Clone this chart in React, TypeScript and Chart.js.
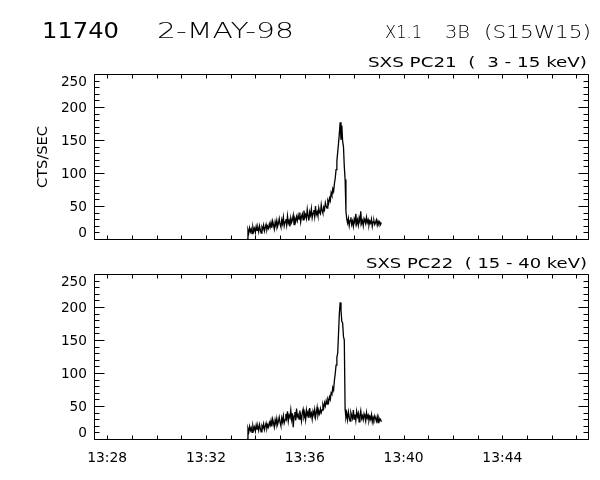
import { useEffect, useRef } from "react";
import { Chart, registerables } from "chart.js";

Chart.register(...registerables);

// ---------- data ----------
const HEADER_ID = "11740";
const HEADER_DATE = "2-MAY-98";
const HEADER_CLASS = "X1.1";
const HEADER_OPTICAL = "3B";
const HEADER_LOCATION = "(S15W15)";
const PANEL_TITLES = ["SXS PC21  (  3 - 15 keV)", "SXS PC22  ( 15 - 40 keV)"];
const Y_TITLE = "CTS/SEC";
const Y_TICKS = [0, 50, 100, 150, 200, 250];
const Y_MINOR_STEP = 10;
const X_TICK_LABELS = ["13:28", "13:32", "13:36", "13:40", "13:44"];
const X_MIN_TIME = "13:27:28";
const X_MAX_TIME = "13:47:28";
const START_TIME = "13:33:40";
const SAMPLE_SECONDS = 2;

const PC21 = [
  0,
  14, 9, 17, 11, 15, 8, 18, 12, 16, 10, 19, 13, 17, 11, 20, 14, 9, 18, 15, 21, 12, 17, 22, 14, 19, 16, 23,
  18, 25, 17, 27, 21, 15, 26, 20, 28, 19, 24, 31, 22, 18, 29, 23, 33, 20, 26, 30, 21, 35, 24, 28, 19, 32, 25, 29, 36, 22, 31, 27, 34,
  28, 36, 30, 40, 26, 34, 38, 29, 43, 33, 37, 31, 45, 35, 28, 41, 36, 46, 32, 39, 44, 34, 50, 37, 41, 35, 47, 40, 38, 52, 43, 39,
  48, 44, 55, 50, 47, 58, 54,
  62, 58, 70, 66, 76, 72, 84, 92, 105, 118, 132, 145, 160, 177, 150, 172, 148, 140, 110, 90, 42, 30,
  24, 31, 20, 28, 33, 22, 27, 19, 30, 25, 38, 23, 29, 21, 32, 26, 42, 24, 28, 20, 31, 27, 23, 33, 25, 29, 21, 27, 24, 30, 19, 26, 28, 22, 25, 29, 21, 27, 23, 26, 22, 25,
];

const PC22 = [
  0,
  16, 11, 19, 13, 17, 10, 20, 14, 18, 12, 21, 15, 19, 13, 22, 16, 11, 20, 17, 23, 14, 19, 24, 16, 21, 18, 25,
  21, 28, 19, 30, 24, 18, 29, 23, 31, 22, 27, 33, 25, 20, 32, 26, 35, 24,
  29, 38, 31, 42, 27, 36, 33, 44, 30, 39, 18, 35, 41, 28, 46, 34, 37, 30, 43, 36, 27, 40, 45, 33, 38, 29, 44, 36, 41, 32, 47, 35, 39, 30, 42, 37, 45, 33, 40, 48, 36, 42, 38, 46, 40,
  44, 52, 47, 55, 50, 58, 53, 60, 56,
  64, 60, 70, 68, 78, 74, 89, 99, 112, 124, 130, 160, 190, 207, 195, 178, 176, 155, 150, 45, 32,
  38, 29, 41, 33, 27, 40, 35, 31, 44, 30, 37, 28, 42, 34, 39, 26, 36, 43, 31, 35, 29, 38, 33, 27, 40, 32, 36, 28, 34, 30, 37, 26, 33, 29, 35, 31, 27, 34, 25, 32, 28, 30, 26,
];

// ---------- helpers ----------
// minutes after 13:00
function toMin(t: string): number {
  const [h, m, s] = t.split(":").map(Number);
  return (h - 13) * 60 + m + (s || 0) / 60;
}
const X_MIN = toMin(X_MIN_TIME);
const X_MAX = toMin(X_MAX_TIME);

function series(values: number[]) {
  const t0 = toMin(START_TIME);
  return values.map((v, i) => ({ x: t0 + (i * SAMPLE_SECONDS) / 60, y: v }));
}

const FONT = "'DejaVu Sans', 'Liberation Sans', sans-serif";

// draw text stretched horizontally to a target width (IDL's wide vector font)
function fitText(
  ctx: CanvasRenderingContext2D,
  text: string,
  left: number,
  baseline: number,
  width: number,
  font: string
) {
  ctx.save();
  ctx.font = font;
  ctx.textAlign = "left";
  ctx.textBaseline = "alphabetic";
  const w = ctx.measureText(text).width;
  ctx.translate(left, baseline);
  ctx.scale(width / w, 1);
  ctx.fillText(text, 0, 0);
  ctx.restore();
}

type PanelOpts = {
  title: string;
  titleLeft: number;
  titleBaseline: number;
  header: boolean;
  yTitle: boolean;
  xLabels: boolean;
  xLabelBaseline: number;
};

function makePlugin(p: PanelOpts) {
  return {
    id: "idlFrame",
    afterDraw(chart: any) {
      const ctx: CanvasRenderingContext2D = chart.ctx;
      const a = chart.chartArea;
      const xs = chart.scales.x;
      const ys = chart.scales.y;
      ctx.save();
      ctx.strokeStyle = "#000";
      ctx.fillStyle = "#000";
      ctx.lineWidth = 1;
      ctx.beginPath();
      const L = a.left + 0.5, R = a.right + 0.5, T = a.top + 0.5, B = a.bottom + 0.5;
      ctx.moveTo(L, T); ctx.lineTo(R, T); ctx.lineTo(R, B); ctx.lineTo(L, B); ctx.closePath();
      // x ticks, every minute, inward on both edges
      for (let m = Math.ceil(X_MIN); m <= X_MAX; m++) {
        const px = Math.round(xs.getPixelForValue(m)) + 0.5;
        ctx.moveTo(px, B); ctx.lineTo(px, B - 4);
        ctx.moveTo(px, T); ctx.lineTo(px, T + 4);
      }
      // y ticks
      const yMax = Y_TICKS[Y_TICKS.length - 1];
      for (let v = Y_TICKS[0]; v <= yMax; v += Y_MINOR_STEP) {
        const py = Math.round(ys.getPixelForValue(v)) + 0.5;
        const len = Y_TICKS.includes(v) ? 10 : 5;
        ctx.moveTo(L, py); ctx.lineTo(L + len, py);
        ctx.moveTo(R, py); ctx.lineTo(R - len, py);
      }
      ctx.stroke();

      // y tick labels
      const cap = 10;
      for (const v of Y_TICKS) {
        let c = ys.getPixelForValue(v);
        c = Math.max(a.top + 2 + cap / 2, Math.min(a.bottom - 2 - cap / 2, c));
        const s = String(v);
        const w = s.length * 8.7;
        fitText(ctx, s, a.left - 7 - w, c + cap / 2, w, "14px " + FONT);
      }

      // x tick labels
      if (p.xLabels) {
        for (const lab of X_TICK_LABELS) {
          const px = xs.getPixelForValue(toMin(lab + ":00"));
          fitText(ctx, lab, px - 20, p.xLabelBaseline, 40, "14px " + FONT);
        }
      }

      // panel title
      fitText(ctx, p.title, p.titleLeft, p.titleBaseline, 587 - p.titleLeft, "14px " + FONT);

      // y title
      if (p.yTitle) {
        ctx.save();
        ctx.translate(47, 157);
        ctx.rotate(-Math.PI / 2);
        ctx.font = "14px " + FONT;
        const w = ctx.measureText(Y_TITLE).width;
        fitText(ctx, Y_TITLE, -31, 0, 62, "14px " + FONT);
        void w;
        ctx.restore();
      }

      // header
      if (p.header) {
        fitText(ctx, HEADER_ID, 42, 38, 77, "22px " + FONT);
        fitText(ctx, HEADER_DATE, 157, 38, 137, "200 22px " + FONT);
        fitText(ctx, HEADER_CLASS, 385, 38, 37, "200 18px " + FONT);
        fitText(ctx, HEADER_OPTICAL, 445, 38, 25, "200 18px " + FONT);
        fitText(ctx, HEADER_LOCATION, 484, 38, 107, "200 18px " + FONT);
      }
      ctx.restore();
    },
  };
}

function makeChart(
  canvas: HTMLCanvasElement,
  values: number[],
  padding: { left: number; right: number; top: number; bottom: number },
  p: PanelOpts
) {
  return new Chart(canvas, {
    type: "line",
    data: {
      datasets: [
        {
          data: series(values),
          borderColor: "#000",
          borderWidth: 1.3,
          pointRadius: 0,
          tension: 0,
          fill: false,
        },
      ],
    },
    options: {
      animation: false,
      responsive: false,
      maintainAspectRatio: false,
      events: [],
      layout: { padding },
      plugins: {
        legend: { display: false },
        tooltip: { enabled: false },
        title: { display: false },
      },
      scales: {
        x: { type: "linear", min: X_MIN, max: X_MAX, display: false },
        y: { type: "linear", min: Y_TICKS[0], max: Y_TICKS[Y_TICKS.length - 1], display: false },
      },
    } as any,
    plugins: [makePlugin(p)],
  });
}

export default function App() {
  const topRef = useRef<HTMLCanvasElement>(null);
  const botRef = useRef<HTMLCanvasElement>(null);

  useEffect(() => {
    const c1 = makeChart(
      topRef.current!,
      PC21,
      { left: 94, right: 12, top: 74, bottom: 11 },
      {
        title: PANEL_TITLES[0],
        titleLeft: 368,
        titleBaseline: 67,
        header: true,
        yTitle: true,
        xLabels: false,
        xLabelBaseline: 0,
      }
    );
    const c2 = makeChart(
      botRef.current!,
      PC22,
      { left: 94, right: 12, top: 24, bottom: 41 },
      {
        title: PANEL_TITLES[1],
        titleLeft: 366,
        titleBaseline: 18,
        header: false,
        yTitle: false,
        xLabels: true,
        xLabelBaseline: 212,
      }
    );
    return () => {
      c1.destroy();
      c2.destroy();
    };
  }, []);

  return (
    <div
      style={{
        position: "fixed",
        left: 0,
        top: 0,
        width: 600,
        height: 480,
        background: "#fff",
      }}
    >
      <canvas
        ref={topRef}
        width={600}
        height={250}
        style={{ position: "absolute", left: 0, top: 0, width: 600, height: 250 }}
      />
      <canvas
        ref={botRef}
        width={600}
        height={230}
        style={{ position: "absolute", left: 0, top: 250, width: 600, height: 230 }}
      />
    </div>
  );
}
